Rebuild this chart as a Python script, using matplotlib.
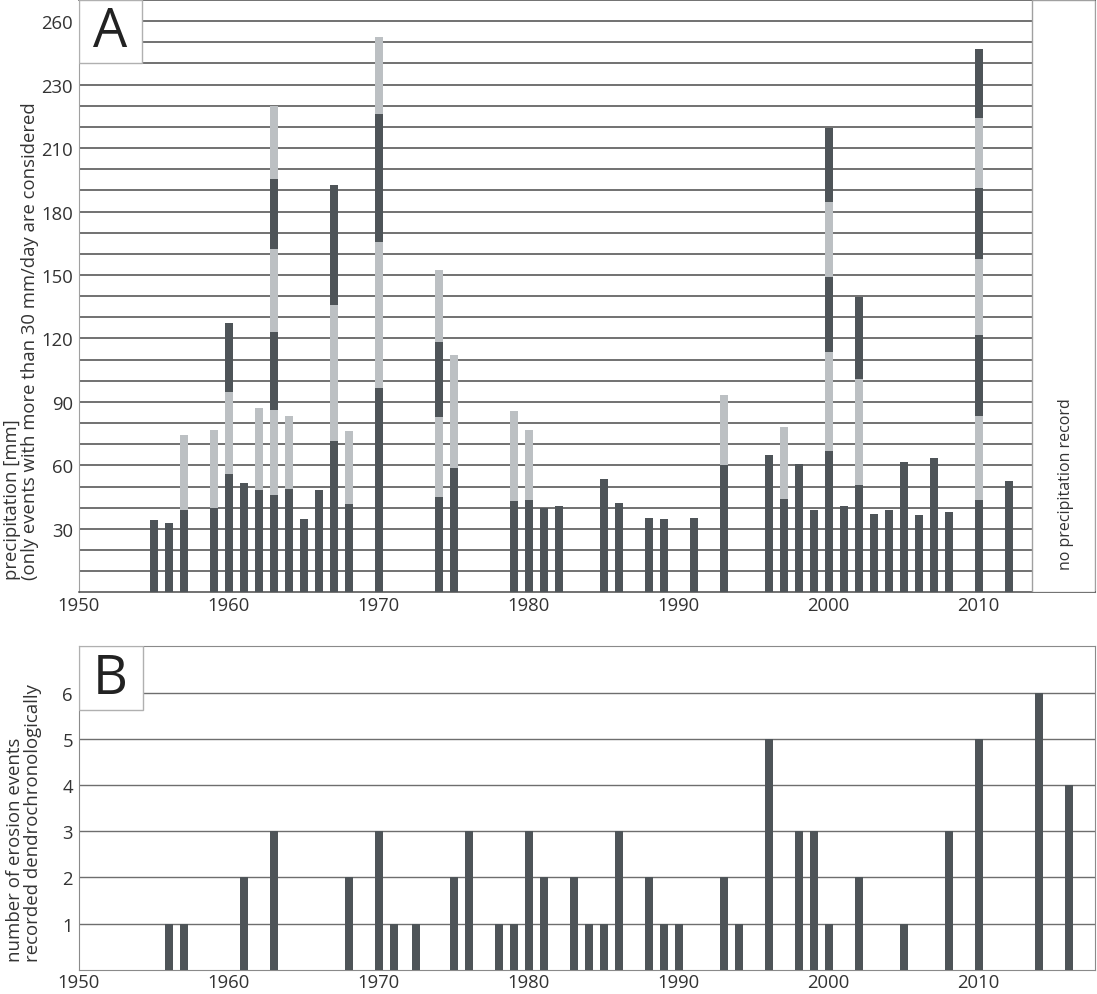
import matplotlib
matplotlib.use("Agg")
import matplotlib.pyplot as plt
from matplotlib.patches import Rectangle

plt.rcParams['font.family'] = ['Open Sans', 'DejaVu Sans']

# panel A: precipitation events > 30 mm/day, cumulative tops per year (mm)
a_years = [1955, 1956, 1957, 1959, 1960, 1961, 1962, 1963, 1964, 1965, 1966,
           1967, 1968, 1970, 1974, 1975, 1979, 1980, 1981, 1982, 1985, 1986,
           1988, 1989, 1991, 1993, 1996, 1997, 1998, 1999, 2000, 2001, 2002,
           2003, 2004, 2005, 2006, 2007, 2008, 2010, 2012]
a_tops = [
    [34.3], [32.8], [38.9, 74.3], [40.0, 76.7], [55.9, 94.8, 127.2], [51.5],
    [48.2, 86.9], [46.1, 86.3, 123.1, 162.2, 195.6, 229.9], [48.8, 83.5],
    [34.8], [48.3], [71.7, 136.0, 192.6], [41.9, 76.1],
    [96.4, 165.8, 226.0, 262.5], [44.9, 82.7, 118.1, 152.2], [58.7, 112.1],
    [43.0, 85.7], [43.6, 76.9], [39.8], [40.9], [53.7], [42.2], [35.1],
    [34.6], [35.0], [60.3, 93.1], [65.1], [44.0, 78.3], [60.8], [38.9],
    [66.6, 113.5, 149.2, 184.4, 219.5], [40.9], [50.6, 100.9, 139.6],
    [36.8], [38.9], [61.8], [36.4], [63.4], [38.2],
    [43.7, 83.3, 121.7, 157.5, 191.1, 224.0, 256.8], [52.6],
]
a_ticks = [30, 60, 90, 120, 150, 180, 210, 240, 270]
a_ticklabels = ['30', '60', '90', '120', '150', '180', '210', '230', '260']

# panel B: erosion events recorded dendrochronologically
b_years = [1956, 1957, 1961, 1963, 1968, 1970, 1971, 1972.5, 1975, 1976, 1978,
           1979, 1980, 1981, 1983, 1984, 1985, 1986, 1988, 1989, 1990, 1993,
           1994, 1996, 1998, 1999, 2000, 2002, 2005, 2008, 2010, 2014, 2016]
b_counts = [1, 1, 2, 3, 2, 3, 1, 1, 2, 3, 1, 1, 3, 2, 2, 1, 1, 3, 2, 1, 1, 2,
            1, 5, 3, 3, 1, 2, 1, 3, 5, 6, 4]

x_ticks = [1950, 1960, 1970, 1980, 1990, 2000, 2010]

DARK = '#4e5458'
LIGHT = '#bcc0c3'
TXT = '#333333'
record_end = 2013.55
bar_w = 0.55

fig = plt.figure(figsize=(10.97, 9.95), dpi=100)
axA = fig.add_axes([0.0717, 0.4037, 0.9264, 0.5953])
axB = fig.add_axes([0.0717, 0.0244, 0.9264, 0.3250])

# ---- panel A ----
for yr, tops in zip(a_years, a_tops):
    bottom = 0
    for i, top in enumerate(tops):
        col = DARK if i % 2 == 0 else LIGHT
        axA.bar(yr, top - bottom, bottom=bottom, width=bar_w, color=col,
                linewidth=0, zorder=3)
        bottom = top

axA.hlines(range(10, 280, 10), 1950, record_end, colors='#4a4a4a',
           linewidth=1.1, zorder=2)
axA.set_xlim(1950, 2017.75)
axA.set_ylim(0, 280)
axA.set_yticks(a_ticks)
axA.set_yticklabels(a_ticklabels)
axA.set_xticks(x_ticks)
axA.tick_params(length=0, labelsize=13.3, colors=TXT)
axA.tick_params(axis='x', pad=2.6)
axA.tick_params(axis='y', pad=4)
for s in ['left', 'right']:
    axA.spines[s].set_color('#a0a0a0')
for s in ['top', 'bottom']:
    axA.spines[s].set_color('#4a4a4a')
    axA.spines[s].set_linewidth(1.1)

# no precipitation record box
axA.add_patch(Rectangle((record_end, 0), 2017.75 - record_end, 280,
                        facecolor='white', edgecolor='#a0a0a0', linewidth=1,
                        zorder=4))
axA.text((record_end + 2017.75) / 2 + 0.2, 51.6, 'no precipitation record',
         rotation=90, ha='center', va='center', fontsize=11.5, color=TXT,
         zorder=5)

# label box A
axA.add_patch(Rectangle((1950, 250), 4.2, 30, facecolor='white',
                        edgecolor='#b0b0b0', linewidth=1, zorder=4))
axA.text(1952.1, 265, 'A', ha='center', va='center', fontsize=39,
         color='#222222', zorder=5)

axA.text(-0.057, 0.0225,
         'precipitation [mm]\n(only events with more than 30 mm/day are considered',
         transform=axA.transAxes, rotation=90, ha='center', va='bottom',
         multialignment='left', fontsize=13.3, color=TXT, linespacing=1.0)

# ---- panel B ----
axB.bar(b_years, b_counts, width=bar_w, color=DARK, linewidth=0, zorder=3)
axB.hlines(range(1, 7), 1950, 2017.75, colors='#6e6e6e', linewidth=1.0,
           zorder=2)
axB.set_xlim(1950, 2017.75)
axB.set_ylim(0, 7)
axB.set_yticks(range(1, 7))
axB.set_xticks(x_ticks)
axB.tick_params(length=0, labelsize=13.3, colors=TXT)
axB.tick_params(axis='x', pad=2.6)
axB.tick_params(axis='y', pad=4)
for s in axB.spines.values():
    s.set_color('#8a8a8a')

axB.add_patch(Rectangle((1950, 5.62), 4.27, 1.38, facecolor='white',
                        edgecolor='#b0b0b0', linewidth=1, zorder=4))
axB.text(1952.1, 6.31, 'B', ha='center', va='center', fontsize=39,
         color='#222222', zorder=5)

axB.text(-0.054, 0.027,
         'number of erosion events\nrecorded dendrochronologically',
         transform=axB.transAxes, rotation=90, ha='center', va='bottom',
         multialignment='left', fontsize=13.4, color=TXT, linespacing=1.0)

fig.savefig('out.png', dpi=100)
